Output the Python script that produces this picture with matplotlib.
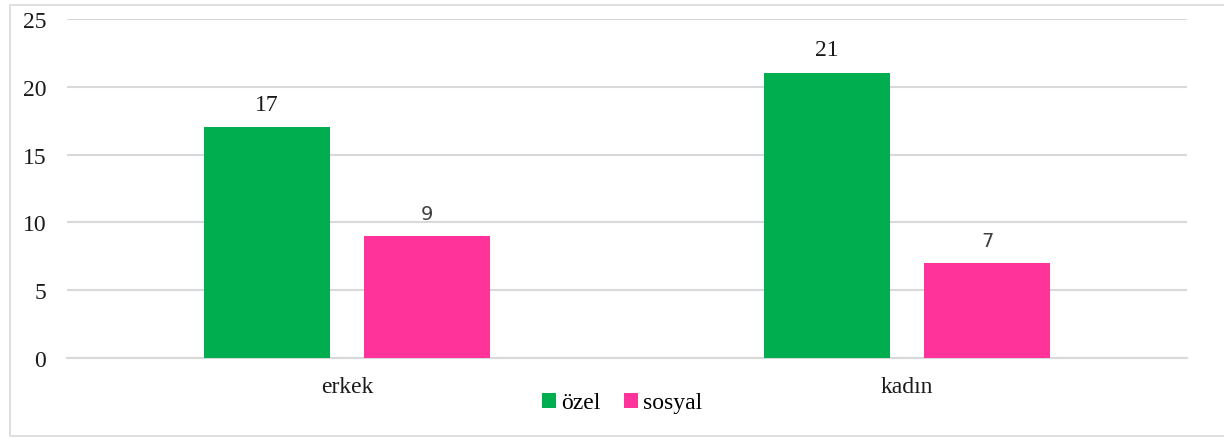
# grouped bar chart: özel vs sosyal by gender

import matplotlib
matplotlib.use('Agg')
import matplotlib.pyplot as plt
from matplotlib.patches import Rectangle
import numpy as np


categories = ['erkek', 'kadın']
ozel = [17, 21]
sosyal = [9, 7]
series_names = ['özel', 'sosyal']
yticks = [0, 5, 10, 15, 20, 25]

green = '#00ad4f'
pink = '#ff3399'
grid = '#d9d9d9'

plt.rcParams['font.family'] = ['Liberation Serif', 'DejaVu Serif']


def main():
	fig = plt.figure(figsize=(12.24, 4.39), dpi=100)
	ax = fig.add_axes([67/1224, 1 - 359/439, 1120/1224, 339/439])

	x = np.arange(len(categories))
	width = 0.225
	off = 0.143

	b1 = ax.bar(x - off, ozel, width, color=green, label=series_names[0], zorder=3)
	b2 = ax.bar(x + off, sosyal, width, color=pink, label=series_names[1], zorder=3)

	# data labels (the small values look like a sans font in the original)
	for rect, v in zip(b1, ozel):
		ax.text(rect.get_x() + rect.get_width()/2, v + 0.95, str(v),
				ha='center', va='bottom', fontsize=17, color='#1a1a1a')
	for rect, v in zip(b2, sosyal):
		ax.text(rect.get_x() + rect.get_width()/2, v + 0.95, str(v),
				ha='center', va='bottom', fontsize=14, color='#404040',
				family='DejaVu Sans')

	ax.set_xlim(-0.5, 1.5)
	ax.set_ylim(0, 25)
	ax.set_yticks(yticks)
	ax.set_xticks(x)
	ax.set_xticklabels(categories)
	ax.tick_params(axis='both', length=0, labelsize=17, colors='#1a1a1a')
	ax.tick_params(axis='y', pad=15)
	ax.tick_params(axis='x', pad=13)

	ax.yaxis.grid(True, color=grid, linewidth=1.5, zorder=0)
	ax.set_axisbelow(True)
	for s in ['top', 'right', 'left']:
		ax.spines[s].set_visible(False)
	ax.spines['bottom'].set_color(grid)
	ax.spines['bottom'].set_linewidth(1.5)

	fig.legend(handles=[b1, b2], loc='center', bbox_to_anchor=(622/1224, 1 - 404/439),
			   ncol=2, frameon=False, fontsize=17, handlelength=0.6,
			   handleheight=0.6, handletextpad=0.2, columnspacing=1.0)

	# outer chart border
	fig.patches.append(Rectangle((10/1224, 2/439), 1.0, 431/439, transform=fig.transFigure,
								 fill=False, edgecolor=grid, linewidth=1.2))

	fig.savefig('out.png', dpi=100)


if __name__ == '__main__':
	main()
